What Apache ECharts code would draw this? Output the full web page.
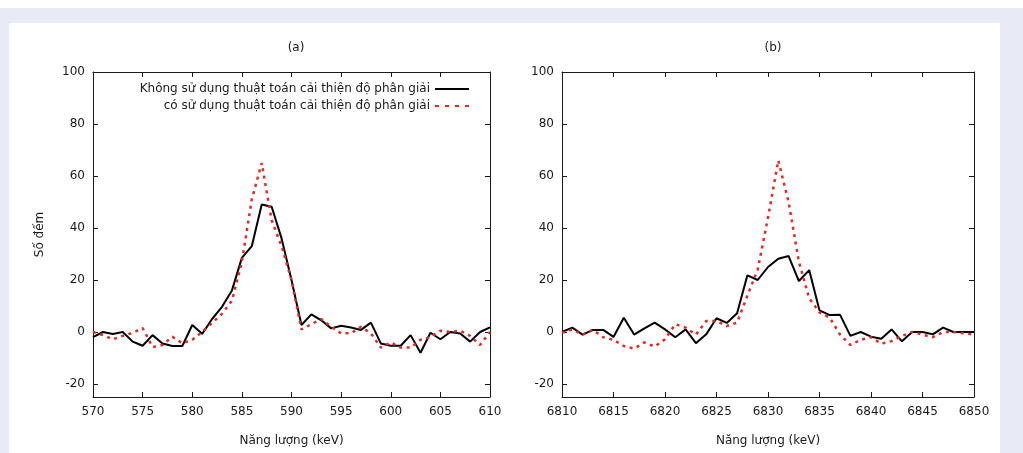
<!DOCTYPE html>
<html>
<head>
<meta charset="utf-8">
<script src="https://cdn.jsdelivr.net/npm/echarts@6/dist/echarts.min.js"></script>
<style>
    html, body { margin: 0; padding: 0; background: #fff; }
    #band { position: absolute; left: 0; top: 8px; width: 1023px; height: 445px; background: #e8eaf5; }
    #panel { position: absolute; left: 9px; top: 23px; width: 991px; height: 430px; background: #fff; }
    #chart { position: absolute; left: 0; top: 0; width: 1023px; height: 453px; }
</style>
</head>
<body>
<div id="band"></div>
<div id="panel"></div>
<div id="chart"></div>
<script>
// (a) vung 570 - 610 keV
var energyA = [570, 571, 572, 573, 574, 575, 576, 577, 578, 579, 580, 581, 582, 583, 584, 585, 586, 587, 588, 589, 590,
    591, 592, 593, 594, 595, 596, 597, 598, 599, 600, 601, 602, 603, 604, 605, 606, 607, 608, 609, 610];
var rawA = [-2, 0, -0.8, 0, -3.7, -5.3, -1.2, -4.4, -5.4, -5.4, 2.7, -0.7, 5, 9.7, 16, 28.5, 33, 49, 48.2, 36, 20,
    2.7, 6.8, 4.5, 1.4, 2.4, 1.7, 0.8, 3.6, -4.4, -5.3, -5.3, -1.2, -8, -0.3, -2.8, 0, -0.6, -3.7, 0, 1.8];
var enhA = [0, -1.2, -2.8, -1.5, -0.3, 1.5, -5.8, -5, -1.8, -4.4, -3, 0, 3.5, 7, 12, 27, 51, 65, 43, 33, 20,
    1, 3, 5, 2, -0.5, -0.5, 2, -0.5, -6, -4, -6, -6, -3, -2, 0.5, 0, 0.5, -1.5, -5, 0];

// (b) vung 6810 - 6850 keV
var energyB = [6810, 6811, 6812, 6813, 6814, 6815, 6816, 6817, 6818, 6819, 6820, 6821, 6822, 6823, 6824, 6825, 6826, 6827, 6828, 6829, 6830,
    6831, 6832, 6833, 6834, 6835, 6836, 6837, 6838, 6839, 6840, 6841, 6842, 6843, 6844, 6845, 6846, 6847, 6848, 6849, 6850];
var rawB = [0, 1.7, -1, 0.8, 0.8, -1.9, 5.5, -1, 1.4, 3.6, 1, -2, 1, -4.3, -0.9, 5.3, 3.5, 7.2, 21.8, 20, 25,
    28.2, 29.2, 19.6, 23.8, 8.3, 6.5, 6.6, -1.5, 0, -1.8, -2.6, 1, -3.6, 0, 0, -0.9, 1.7, 0, 0, 0];
var enhB = [-0.3, 1, -1, 0.8, -2, -3, -5.4, -6.4, -4, -5.6, -2.8, 3, 1.7, -1, 4.2, 4.2, 2.3, 3.6, 14, 24, 44,
    66, 50, 27, 13, 7.5, 5.5, -1, -5, -3, -2, -4.5, -3.5, -1.5, 0, -1, -2, 0, 0, -0.5, -1];

var yTicks = [-20, 0, 20, 40, 60, 80, 100];
var nameRaw = 'Không sử dụng thuật toán cải thiện độ phân giải';
var nameEnh = 'có sử dụng thuật toán cải thiện độ phân giải';

var font = 'DejaVu Sans';
var ink = '#1a1a1a';

// icon cho chu thich: net lien va net dut
var iconSolid = 'path://M0,0h34v2h-34z';
var iconDash = 'path://M0,0h4v2h-4z M10,0h4v2h-4z M20,0h4v2h-4z M30,0h4v2h-4z';

function pairs(xs, ys) {
    var out = [];
    for (var i = 0; i < xs.length; i++) out.push([xs[i], ys[i]]);
    return out;
}

function xAx(grid, min, max, pos) {
    return {
        type: 'value', gridIndex: grid, position: pos, min: min, max: max, interval: 5,
        name: pos === 'bottom' ? 'Năng lượng (keV)' : '',
        nameLocation: 'middle', nameGap: 38,
        nameTextStyle: { fontFamily: font, fontSize: 12, color: ink },
        axisLine: { onZero: false, lineStyle: { color: ink, width: 1 } },
        axisTick: { inside: true, length: 5, lineStyle: { color: ink } },
        axisLabel: {
            show: pos === 'bottom', fontFamily: font, fontSize: 12, color: ink, margin: 9,
            formatter: function (v) { return String(v); }
        },
        splitLine: { show: false }
    };
}

function yAx(grid, pos, title) {
    return {
        type: 'value', gridIndex: grid, position: pos, min: -25, max: 100,
        name: title || '',
        nameLocation: 'middle', nameGap: 47, nameRotate: 90,
        nameTextStyle: { fontFamily: font, fontSize: 12, color: ink },
        axisLine: { onZero: false, lineStyle: { color: ink, width: 1 } },
        axisTick: { inside: true, length: 5, customValues: yTicks, lineStyle: { color: ink } },
        axisLabel: { show: pos === 'left', customValues: yTicks, fontFamily: font, fontSize: 12, color: ink, margin: 8 },
        splitLine: { show: false }
    };
}

var solid = { color: '#000', width: 2 };
var dashed = { color: '#e02a2a', width: 2.5, type: [3, 4.5] };

var myChart = echarts.init(document.getElementById('chart'));
var option = {
    backgroundColor: 'transparent',
    animation: false,
    title: [
        { text: '(a)', left: 291, top: 37, textAlign: 'center', textStyle: { fontFamily: font, fontSize: 12, fontWeight: 'normal', color: ink } },
        { text: '(b)', left: 768, top: 37, textAlign: 'center', textStyle: { fontFamily: font, fontSize: 12, fontWeight: 'normal', color: ink } }
    ],
    legend: {
        orient: 'vertical', align: 'right',
        right: 549, top: 78, itemWidth: 34, itemHeight: 2, itemGap: 5,
        textStyle: { fontFamily: font, fontSize: 12, color: ink },
        data: [
            { name: nameRaw, icon: iconSolid, itemStyle: { color: '#000' } },
            { name: nameEnh, icon: iconDash, itemStyle: { color: '#e02a2a' } }
        ]
    },
    grid: [
        { left: 93, top: 72, width: 397, height: 325 },
        { left: 562, top: 72, width: 412, height: 325 }
    ],
    xAxis: [xAx(0, 570, 610, 'bottom'), xAx(0, 570, 610, 'top'), xAx(1, 6810, 6850, 'bottom'), xAx(1, 6810, 6850, 'top')],
    yAxis: [yAx(0, 'left', 'Số đếm'), yAx(0, 'right'), yAx(1, 'left'), yAx(1, 'right')],
    series: [
        { name: nameRaw, type: 'line', xAxisIndex: 0, yAxisIndex: 0, symbol: 'none', lineStyle: solid, itemStyle: { color: '#000' }, data: pairs(energyA, rawA) },
        { name: nameEnh, type: 'line', xAxisIndex: 0, yAxisIndex: 0, symbol: 'none', lineStyle: dashed, itemStyle: { color: '#e02a2a' }, data: pairs(energyA, enhA) },
        { name: nameRaw, type: 'line', xAxisIndex: 2, yAxisIndex: 2, symbol: 'none', lineStyle: solid, itemStyle: { color: '#000' }, data: pairs(energyB, rawB) },
        { name: nameEnh, type: 'line', xAxisIndex: 2, yAxisIndex: 2, symbol: 'none', lineStyle: dashed, itemStyle: { color: '#e02a2a' }, data: pairs(energyB, enhB) }
    ]
};
myChart.setOption(option, true);
</script>
</body>
</html>
